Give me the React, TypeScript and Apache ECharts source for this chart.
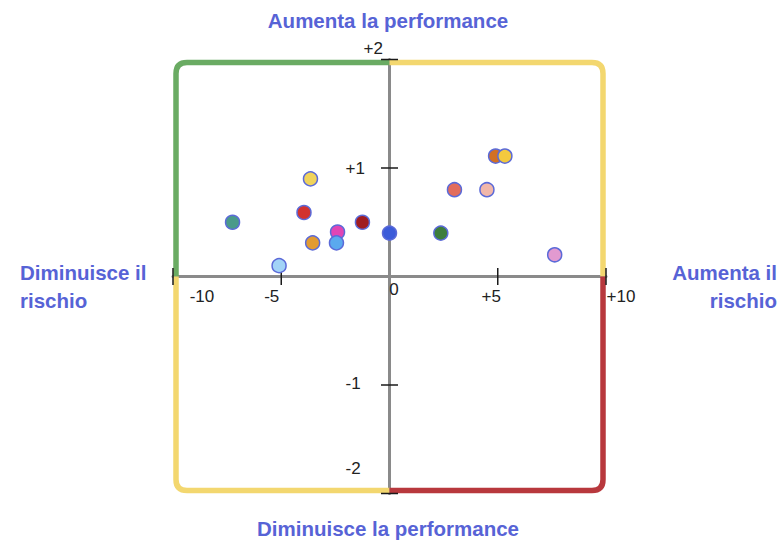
import React, { useEffect, useRef } from 'react';
import * as echarts from 'echarts';

// Risk (x) and performance (y) of each point
const riskX = [-7.25, -3.65, -3.95, -3.55, -2.4, -2.45, -1.25, 0, 2.37, 3.0, 4.5, 4.9, 5.33, 7.63, -5.1];
const perfY = [0.5, 0.9, 0.59, 0.31, 0.41, 0.31, 0.5, 0.4, 0.4, 0.8, 0.8, 1.11, 1.11, 0.2, 0.1];
const pointColors = ['#4a9a8a', '#f0d35b', '#d2322f', '#e29b32', '#e045b5', '#5aa9ee', '#a01c20', '#3b5bd9', '#3d7d3c', '#e26d5c', '#f1b7aa', '#d27022', '#f3c93e', '#e29ad0', '#a2d3f7'];

const xTicks = [-10, -5, 0, 5, 10];
const xTickLabels = ['-10', '-5', '0', '+5', '+10'];
const yTicks = [-2, -1, 0, 1, 2];
const yTickLabels = ['-2', '-1', '', '+1', '+2'];

// quadrant corners of the frame
const frameCorners = [[-10, 2], [10, 2], [-10, -2], [10, -2]];
const frameColors = ['#6aab63', '#f3d76f', '#f3d76f', '#b8383d'];

const titleTop = 'Aumenta la performance';
const titleBottom = 'Diminuisce la performance';
const titleLeft = 'Diminuisce il\nrischio';
const titleRight = 'Aumenta il\nrischio';

const FONT = 'Arial, "Liberation Sans", sans-serif';
const TITLE_COLOR = '#5763d6';

const GRID_LEFT = 173;
const GRID_TOP = 59.5;
const GRID_W = 433;
const GRID_H = 434;

export default function App() {
  const ref = useRef<HTMLDivElement>(null);
  useEffect(() => {
    if (!ref.current) return;
    const chart = echarts.init(ref.current, null, { renderer: 'svg' });

    const xRich: any = {
      xm10: { padding: [14, 0, 0, 58] },
      xm5: { padding: [14, 19, 0, 0] },
      x0: { padding: [1, 0, 0, 9] },
      xp5: { padding: [14, 13, 0, 0] },
      xp10: { padding: [14, 0, 0, 30] },
    };
    const xKeys = ['xm10', 'xm5', 'x0', 'xp5', 'xp10'];
    Object.keys(xRich).forEach((k) => {
      xRich[k] = { ...xRich[k], fontSize: 17, fontFamily: FONT, color: '#222', lineHeight: 17 };
    });
    const yRich: any = {
      ym2: { padding: [0, 0, 50, 0] },
      ym1: { padding: [0, 0, 3, 0] },
      y0: { padding: [0, 0, 0, 0] },
      yp1: { padding: [0, 0, 0, 0] },
      yp2: { padding: [0, 0, 22, 18] },
    };
    const yKeys = ['ym2', 'ym1', 'y0', 'yp1', 'yp2'];
    Object.keys(yRich).forEach((k) => {
      yRich[k] = { ...yRich[k], fontSize: 17, fontFamily: FONT, color: '#222', lineHeight: 17 };
    });

    const tickData: number[][] = [];
    xTicks.forEach((v) => { if (v !== 0) tickData.push([v, 0]); });
    yTicks.forEach((v) => { if (v !== 0) tickData.push([0, v]); });

    const option: any = {
      animation: false,
      grid: { left: GRID_LEFT, top: GRID_TOP, width: GRID_W, height: GRID_H, containLabel: false, outerBoundsMode: 'none' },
      xAxis: {
        type: 'value', min: -10, max: 10, interval: 5,
        position: 'bottom',
        offset: -GRID_H / 2,
        axisLine: { show: true, onZero: false, lineStyle: { color: '#8a8a8a', width: 3 } },
        axisTick: { show: false },
        splitLine: { show: false },
        axisLabel: {
          margin: 4,
          formatter: (v: number) => {
            const i = xTicks.indexOf(v);
            if (i < 0 || !xTickLabels[i]) return '';
            return `{${xKeys[i]}|${xTickLabels[i]}}`;
          },
          rich: xRich,
        },
      },
      yAxis: {
        type: 'value', min: -2, max: 2, interval: 1,
        position: 'left',
        offset: -GRID_W / 2,
        axisLine: { show: true, onZero: false, lineStyle: { color: '#8a8a8a', width: 3 } },
        axisTick: { show: false },
        splitLine: { show: false },
        axisLabel: {
          margin: 44,
          align: 'left',
          formatter: (v: number) => {
            const i = yTicks.indexOf(v);
            if (i < 0 || !yTickLabels[i]) return '';
            return `{${yKeys[i]}|${yTickLabels[i]}}`;
          },
          rich: yRich,
        },
      },
      graphic: [
        { type: 'text', x: 388, y: 20, style: { text: titleTop, fill: TITLE_COLOR, font: `bold 20.5px ${FONT}`, align: 'center', verticalAlign: 'middle', textAlign: 'center', textVerticalAlign: 'middle' } },
        { type: 'text', x: 388, y: 528, style: { text: titleBottom, fill: TITLE_COLOR, font: `bold 20.5px ${FONT}`, align: 'center', verticalAlign: 'middle', textAlign: 'center', textVerticalAlign: 'middle' } },
        { type: 'text', x: 20, y: 286, style: { text: titleLeft, fill: TITLE_COLOR, font: `bold 20.5px ${FONT}`, lineHeight: 28, align: 'left', verticalAlign: 'middle', textAlign: 'left', textVerticalAlign: 'middle' } },
        { type: 'text', x: 777, y: 286, style: { text: titleRight, fill: TITLE_COLOR, font: `bold 20.5px ${FONT}`, lineHeight: 28, align: 'right', verticalAlign: 'middle', textAlign: 'right', textVerticalAlign: 'middle' } },
      ],
      series: [
        {
          type: 'custom',
          name: 'frame',
          silent: true,
          z: 1,
          data: frameCorners,
          renderItem: (params: any, api: any) => {
            const corner = api.coord([api.value(0), api.value(1)]);
            const center = api.coord([0, 0]);
            const sx = Math.sign(center[0] - corner[0]);
            const sy = Math.sign(center[1] - corner[1]);
            const inset = 3;
            const r = 11;
            const cx = corner[0] + sx * inset;
            const cy = corner[1] + sy * inset;
            const d = `M ${cx} ${center[1]} L ${cx} ${cy + sy * r} Q ${cx} ${cy} ${cx + sx * r} ${cy} L ${center[0]} ${cy}`;
            return {
              type: 'path',
              shape: { pathData: d },
              style: { fill: 'none', stroke: frameColors[params.dataIndex], lineWidth: 5.5 },
            };
          },
        },
        {
          type: 'custom',
          name: 'ticks',
          silent: true,
          z: 3,
          data: tickData,
          renderItem: (params: any, api: any) => {
            const p = api.coord([api.value(0), api.value(1)]);
            const half = 8.5;
            const vertical = api.value(1) === 0;
            const shape = vertical
              ? { x1: p[0], y1: p[1] - half, x2: p[0], y2: p[1] + half }
              : { x1: p[0] - half, y1: p[1], x2: p[0] + half, y2: p[1] };
            return { type: 'line', shape, style: { stroke: '#1a1a1a', lineWidth: 1.5 } };
          },
        },
        {
          type: 'scatter',
          name: 'points',
          z: 5,
          symbol: 'circle',
          symbolSize: 14,
          itemStyle: { borderColor: '#5b6ad8', borderWidth: 1.5, opacity: 1 },
          data: riskX.map((x, i) => ({ value: [x, perfY[i]], itemStyle: { color: pointColors[i] } })),
        },
      ],
    };
    chart.setOption(option);
    return () => chart.dispose();
  }, []);
  return <div ref={ref} style={{ position: 'absolute', left: 0, top: 0, width: 781, height: 540 }} />;
}
